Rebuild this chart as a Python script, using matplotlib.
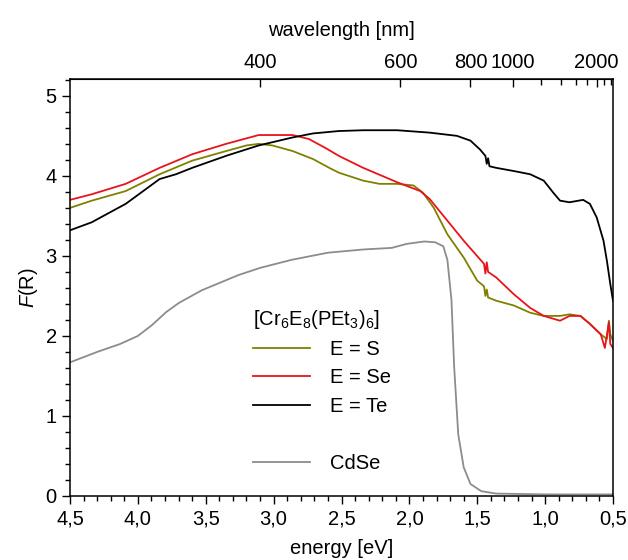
import matplotlib
matplotlib.use('Agg')
import matplotlib.pyplot as plt
from matplotlib.lines import Line2D
from matplotlib.ticker import MultipleLocator, FixedLocator, FuncFormatter

plt.rcParams['font.family'] = 'Liberation Sans'
plt.rcParams['mathtext.fontset'] = 'custom'
plt.rcParams['mathtext.rm'] = 'Liberation Sans'
plt.rcParams['mathtext.it'] = 'Liberation Sans:italic'

FS = 14.5

# data (energy in eV, F(R))
e_s = [4.5, 4.34, 4.09, 3.84, 3.60, 3.35, 3.20, 3.11, 3.01, 2.86, 2.71, 2.59, 2.52, 2.34, 2.22,
       2.09, 1.97, 1.90, 1.82, 1.72, 1.60, 1.50, 1.45, 1.44, 1.43, 1.42, 1.36, 1.23, 1.11, 1.01,
       0.89, 0.82, 0.74, 0.67, 0.59, 0.545, 0.53, 0.52, 0.50]
f_s = [3.60, 3.69, 3.81, 4.02, 4.19, 4.31, 4.38, 4.40, 4.38, 4.31, 4.21, 4.10, 4.04, 3.94, 3.90,
       3.90, 3.88, 3.79, 3.60, 3.27, 2.98, 2.69, 2.62, 2.50, 2.58, 2.48, 2.44, 2.38, 2.29, 2.25,
       2.25, 2.27, 2.25, 2.15, 2.02, 1.96, 2.19, 2.02, 1.94]

e_se = [4.5, 4.34, 4.09, 3.84, 3.60, 3.35, 3.11, 2.86, 2.74, 2.62, 2.52, 2.34, 2.09, 1.92, 1.85,
        1.72, 1.60, 1.45, 1.44, 1.43, 1.42, 1.36, 1.23, 1.11, 1.01, 0.89, 0.82, 0.74, 0.67, 0.59,
        0.56, 0.53, 0.52, 0.50]
f_se = [3.70, 3.77, 3.90, 4.10, 4.27, 4.40, 4.51, 4.51, 4.46, 4.35, 4.25, 4.10, 3.92, 3.81, 3.71,
        3.44, 3.19, 2.90, 2.78, 2.92, 2.80, 2.73, 2.52, 2.35, 2.25, 2.19, 2.25, 2.25, 2.15, 2.02,
        1.85, 2.17, 1.90, 1.85]

e_te = [4.5, 4.34, 4.21, 4.09, 3.84, 3.72, 3.60, 3.35, 3.11, 2.86, 2.71, 2.52, 2.34, 2.09, 1.85,
        1.65, 1.55, 1.48, 1.44, 1.43, 1.42, 1.41, 1.36, 1.23, 1.11, 1.01, 0.94, 0.89, 0.82, 0.72,
        0.67, 0.62, 0.57, 0.545, 0.52, 0.50]
f_te = [3.32, 3.42, 3.54, 3.65, 3.96, 4.02, 4.10, 4.25, 4.38, 4.48, 4.53, 4.56, 4.57, 4.57, 4.54,
        4.50, 4.44, 4.33, 4.25, 4.15, 4.22, 4.12, 4.10, 4.06, 4.02, 3.94, 3.79, 3.69, 3.67, 3.70,
        3.65, 3.48, 3.19, 2.94, 2.65, 2.44]

e_cdse = [4.5, 4.3, 4.13, 4.0, 3.9, 3.79, 3.7, 3.53, 3.26, 3.10, 2.87, 2.60, 2.34, 2.13, 2.02,
          1.89, 1.81, 1.75, 1.72, 1.69, 1.67, 1.64, 1.60, 1.55, 1.47, 1.36, 1.0, 0.5]
f_cdse = [1.67, 1.80, 1.90, 2.00, 2.13, 2.30, 2.41, 2.57, 2.76, 2.85, 2.95, 3.04, 3.08, 3.10, 3.15,
          3.18, 3.17, 3.12, 2.95, 2.45, 1.61, 0.77, 0.36, 0.15, 0.06, 0.03, 0.02, 0.02]

wl_major = [400, 600, 800, 1000, 2000]
wl_minor = [1200, 1400, 1600, 1800, 2200, 2400]

fig = plt.figure(figsize=(6.28, 5.6), dpi=100)
ax = fig.add_axes([0.1115, 0.1143, 0.8646, 0.7446])

ax.plot(e_s, f_s, color='#808000', lw=1.3)
ax.plot(e_se, f_se, color='#e8141c', lw=1.3)
ax.plot(e_te, f_te, color='black', lw=1.3)
ax.plot(e_cdse, f_cdse, color='#8c8c8c', lw=1.3)

ax.set_xlim(4.5, 0.5)
ax.set_ylim(0, 5.21)
ax.xaxis.set_major_locator(MultipleLocator(0.5))
ax.xaxis.set_minor_locator(MultipleLocator(0.1))
ax.yaxis.set_major_locator(MultipleLocator(1))
ax.yaxis.set_minor_locator(MultipleLocator(0.2))
ax.xaxis.set_major_formatter(FuncFormatter(lambda v, p: f'{v:.1f}'.replace('.', ',')))
ax.tick_params(which='both', direction='out', top=False, right=False, labelsize=FS, width=1)
ax.tick_params(which='major', length=6)
ax.tick_params(which='minor', length=3.5)
for s in ax.spines.values():
    s.set_linewidth(1.1)

ax.set_xlabel('energy [eV]', fontsize=FS, labelpad=8)
ax.set_ylabel(r'$\mathit{F}$(R)', fontsize=FS, labelpad=4)

conv = lambda x: 1239.84 / x
sec = ax.secondary_xaxis('top', functions=(conv, conv))
sec.xaxis.set_major_locator(FixedLocator(wl_major))
sec.xaxis.set_minor_locator(FixedLocator(wl_minor))
sec.xaxis.set_major_formatter(FuncFormatter(lambda v, p: f'{v:.0f}'))
sec.tick_params(which='both', direction='in', labelsize=FS, width=1, pad=5)
sec.tick_params(which='major', length=6)
sec.tick_params(which='minor', length=4)
sec.set_xlabel('wavelength [nm]', fontsize=FS, labelpad=12)

handles = [Line2D([], [], color='#808000', lw=1.3),
           Line2D([], [], color='#e8141c', lw=1.3),
           Line2D([], [], color='black', lw=1.3),
           Line2D([], [], color='none'),
           Line2D([], [], color='#8c8c8c', lw=1.3)]
labels = ['E = S', 'E = Se', 'E = Te', '', 'CdSe']
leg = ax.legend(handles, labels, title=r'[Cr$_6$E$_8$(PEt$_3$)$_6$]', loc='lower left',
                bbox_to_anchor=(0.304, 0.012), frameon=False, fontsize=FS, title_fontsize=FS,
                handlelength=2.8, handletextpad=1.0, labelspacing=0.47, alignment='left')

fig.savefig('out.png', dpi=100)
